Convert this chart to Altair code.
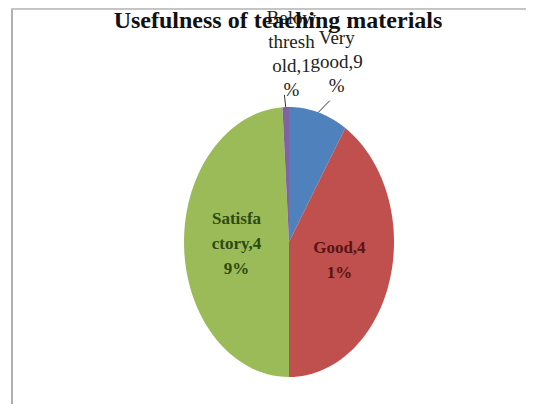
import altair as alt
import pandas as pd

categories = ["Very good", "Good", "Satisfactory", "Below threshold"]
percents = [9, 41, 49, 1]
labels = ["Very\ngood,9\n%", "Good,4\n1%", "Satisfa\nctory,4\n9%", "Below\nthresh\nold,1\n%"]
slice_colors = ["#4F81BD", "#C0504D", "#9BBB59", "#8064A2"]
label_colors = ["#222222", "#5a1414", "#2c4a10", "#222222"]
title_text = ["Usefulness of teaching materials"]

df = pd.DataFrame({"cat": categories, "pct": percents, "label": labels,
                   "ord": list(range(len(categories)))})

W, H = 518, 396
CX, CY, RX, RY = 281, 234, 105, 135      # ellipse centre / radii inside the plot area
IN_LH, OUT_LH = 25, 24                    # label line heights

xs = alt.Scale(domain=[-1, 1], range=[CX - RX, CX + RX])
ys = alt.Scale(domain=[-1, 1], range=[CY + RY, CY - RY])
slice_scale = alt.Scale(domain=categories, range=slice_colors)
label_scale = alt.Scale(domain=categories, range=label_colors)

base = alt.Chart(df).transform_window(
    cum="sum(pct)", sort=[alt.SortField("ord")]
).transform_calculate(
    start="datum.cum - datum.pct",
    mid="(datum.cum - datum.pct / 2) * 2 * PI / 100",
)

slices = base.transform_calculate(
    k="sequence(-1, 61)"
).transform_flatten(["k"]).transform_calculate(
    ang="datum.k < 0 ? 0 : (datum.start + datum.pct * datum.k / 60) * 2 * PI / 100",
    r="datum.k < 0 ? 0 : 1",
).transform_calculate(
    px="datum.r * sin(datum.ang)",
    py="datum.r * cos(datum.ang)",
).mark_line(filled=True, strokeWidth=0).encode(
    x=alt.X("px:Q", scale=xs, axis=None),
    y=alt.Y("py:Q", scale=ys, axis=None),
    color=alt.Color("cat:N", scale=slice_scale, legend=None),
    order=alt.Order("k:Q"),
)

leaders = base.transform_filter("datum.pct < 20").transform_calculate(
    lx1="sin(datum.mid)", ly1="cos(datum.mid)",
    lx2="1.39 * sin(datum.mid)", ly2="1.09 * cos(datum.mid)",
).mark_rule(color="#333333", strokeWidth=1).encode(
    x=alt.X("lx1:Q", scale=xs, axis=None),
    y=alt.Y("ly1:Q", scale=ys, axis=None),
    x2="lx2:Q",
    y2="ly2:Q",
)

text_base = base.transform_calculate(
    lr="datum.pct >= 20 ? 0.5 : 1.39",
    nl="length(split(datum.label, '\\n'))",
    lh=f"datum.pct >= 20 ? {IN_LH} : {OUT_LH}",
).transform_calculate(
    tx="datum.lr * sin(datum.mid)",
    ty=f"datum.lr * cos(datum.mid) + (datum.nl - 1) / 2 * datum.lh / {RY}",
)

inside = text_base.transform_filter("datum.pct >= 20").mark_text(
    font="Liberation Serif", fontWeight="bold", fontSize=17, lineHeight=IN_LH,
    lineBreak="\n", baseline="middle", align="center",
).encode(
    x=alt.X("tx:Q", scale=xs, axis=None),
    y=alt.Y("ty:Q", scale=ys, axis=None),
    text="label:N",
    color=alt.Color("cat:N", scale=label_scale, legend=None),
)

outside = text_base.transform_filter("datum.pct < 20").mark_text(
    font="Liberation Serif", fontSize=19, lineHeight=OUT_LH, dx=7,
    lineBreak="\n", baseline="middle", align="center", color="#222222",
).encode(
    x=alt.X("tx:Q", scale=xs, axis=None),
    y=alt.Y("ty:Q", scale=ys, axis=None),
    text="label:N",
)

title = alt.Chart(pd.DataFrame({"t": title_text})).mark_text(
    font="Liberation Serif", fontWeight="bold", fontSize=24, color="#111111",
    align="center", baseline="alphabetic",
).encode(text="t:N", x=alt.value(270), y=alt.value(20))

frame_left = alt.Chart(df).mark_rule(color="#b0b0b0", strokeWidth=1.5).encode(
    x=alt.value(4), y=alt.value(0.75), y2=alt.value(H)
)
frame_top = alt.Chart(df).mark_rule(color="#c4c4c4", strokeWidth=1.5).encode(
    x=alt.value(4), x2=alt.value(W), y=alt.value(0.75)
)

chart = alt.layer(
    frame_left, frame_top, slices, leaders, outside, title, inside
).resolve_scale(color="independent").properties(
    width=W,
    height=H,
    padding=0,
    autosize=alt.AutoSizeParams(type="none"),
).configure_view(stroke=None)

chart.save("out.html", embed_options={"renderer": "svg", "actions": False})
